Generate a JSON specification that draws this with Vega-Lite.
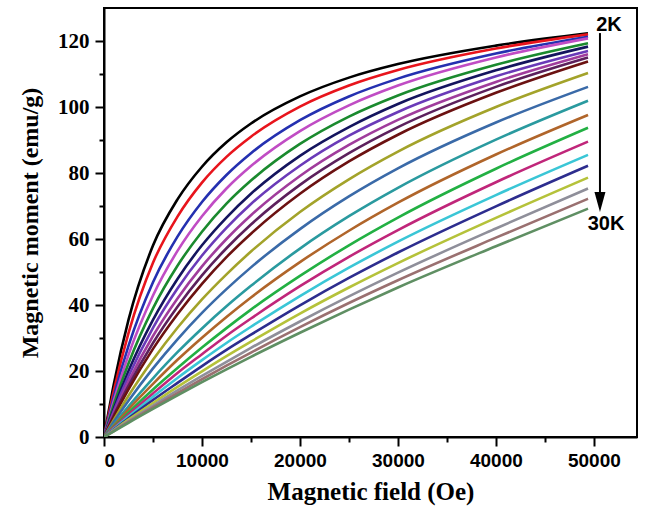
{
  "$schema": "https://vega.github.io/schema/vega-lite/v6.json",
  "autosize": "none",
  "width": 533,
  "height": 429,
  "padding": {"left": 104, "top": 8, "right": 8, "bottom": 85},
  "background": "white",
  "config": {
    "view": {"stroke": "black", "strokeWidth": 2},
    "axis": {"grid": false, "domainColor": "black", "domainWidth": 2, "tickColor": "black", "labelColor": "black", "titleColor": "black"}
  },
  "datasets": {
    "curves": [
      {"c":1,"H":0,"M":0},{"c":1,"H":1000,"M":16},{"c":1,"H":2500,"M":35.5},{"c":1,"H":5000,"M":58.0},{"c":1,"H":7500,"M":72.0},{"c":1,"H":10000,"M":81.9},{"c":1,"H":12500,"M":89.3},{"c":1,"H":15000,"M":95.0},{"c":1,"H":20000,"M":103.2},{"c":1,"H":25000,"M":108.9},{"c":1,"H":30000,"M":113.0},{"c":1,"H":40000,"M":118.6},{"c":1,"H":49400,"M":122.3},
      {"c":2,"H":0,"M":0},{"c":2,"H":1000,"M":14.0},{"c":2,"H":2500,"M":31.5},{"c":2,"H":5000,"M":52.8},{"c":2,"H":7500,"M":66.8},{"c":2,"H":10000,"M":77.1},{"c":2,"H":12500,"M":84.9},{"c":2,"H":15000,"M":91.0},{"c":2,"H":20000,"M":100.1},{"c":2,"H":25000,"M":106.5},{"c":2,"H":30000,"M":111.2},{"c":2,"H":40000,"M":117.7},{"c":2,"H":49400,"M":122.0},
      {"c":3,"H":0,"M":0},{"c":3,"H":1000,"M":12.3},{"c":3,"H":2500,"M":27.6},{"c":3,"H":5000,"M":46.9},{"c":3,"H":7500,"M":60.7},{"c":3,"H":10000,"M":71.2},{"c":3,"H":12500,"M":79.4},{"c":3,"H":15000,"M":86.0},{"c":3,"H":20000,"M":96.0},{"c":3,"H":25000,"M":103.2},{"c":3,"H":30000,"M":108.6},{"c":3,"H":40000,"M":116.2},{"c":3,"H":49400,"M":121.3},
      {"c":4,"H":0,"M":0},{"c":4,"H":1000,"M":11.0},{"c":4,"H":2500,"M":24.9},{"c":4,"H":5000,"M":42.9},{"c":4,"H":7500,"M":56.4},{"c":4,"H":10000,"M":66.9},{"c":4,"H":12500,"M":75.3},{"c":4,"H":15000,"M":82.1},{"c":4,"H":20000,"M":92.7},{"c":4,"H":25000,"M":100.5},{"c":4,"H":30000,"M":106.5},{"c":4,"H":40000,"M":115.0},{"c":4,"H":49400,"M":120.8},
      {"c":5,"H":0,"M":0},{"c":5,"H":1000,"M":9.8},{"c":5,"H":2500,"M":22.3},{"c":5,"H":5000,"M":39.0},{"c":5,"H":7500,"M":51.9},{"c":5,"H":10000,"M":62.2},{"c":5,"H":12500,"M":70.7},{"c":5,"H":15000,"M":77.7},{"c":5,"H":20000,"M":88.8},{"c":5,"H":25000,"M":97.1},{"c":5,"H":30000,"M":103.5},{"c":5,"H":40000,"M":112.8},{"c":5,"H":49400,"M":119.3},
      {"c":6,"H":0,"M":0},{"c":6,"H":1000,"M":8.6},{"c":6,"H":2500,"M":20.0},{"c":6,"H":5000,"M":35.5},{"c":6,"H":7500,"M":47.9},{"c":6,"H":10000,"M":58.1},{"c":6,"H":12500,"M":66.5},{"c":6,"H":15000,"M":73.7},{"c":6,"H":20000,"M":85.2},{"c":6,"H":25000,"M":93.9},{"c":6,"H":30000,"M":100.9},{"c":6,"H":40000,"M":111.1},{"c":6,"H":49400,"M":118.3},
      {"c":7,"H":0,"M":0},{"c":7,"H":1000,"M":7.9},{"c":7,"H":2500,"M":18.4},{"c":7,"H":5000,"M":33.1},{"c":7,"H":7500,"M":45.0},{"c":7,"H":10000,"M":55.0},{"c":7,"H":12500,"M":63.4},{"c":7,"H":15000,"M":70.6},{"c":7,"H":20000,"M":82.2},{"c":7,"H":25000,"M":91.3},{"c":7,"H":30000,"M":98.5},{"c":7,"H":40000,"M":109.3},{"c":7,"H":49400,"M":117.0},
      {"c":8,"H":0,"M":0},{"c":8,"H":1000,"M":7.2},{"c":8,"H":2500,"M":16.8},{"c":8,"H":5000,"M":30.6},{"c":8,"H":7500,"M":42.0},{"c":8,"H":10000,"M":51.7},{"c":8,"H":12500,"M":60.0},{"c":8,"H":15000,"M":67.2},{"c":8,"H":20000,"M":79.1},{"c":8,"H":25000,"M":88.5},{"c":8,"H":30000,"M":96.1},{"c":8,"H":40000,"M":107.6},{"c":8,"H":49400,"M":116.0},
      {"c":9,"H":0,"M":0},{"c":9,"H":1000,"M":6.6},{"c":9,"H":2500,"M":15.5},{"c":9,"H":5000,"M":28.5},{"c":9,"H":7500,"M":39.5},{"c":9,"H":10000,"M":49.0},{"c":9,"H":12500,"M":57.2},{"c":9,"H":15000,"M":64.4},{"c":9,"H":20000,"M":76.4},{"c":9,"H":25000,"M":86.0},{"c":9,"H":30000,"M":93.9},{"c":9,"H":40000,"M":106.1},{"c":9,"H":49400,"M":115.0},
      {"c":10,"H":0,"M":0},{"c":10,"H":1000,"M":6.1},{"c":10,"H":2500,"M":14.4},{"c":10,"H":5000,"M":26.7},{"c":10,"H":7500,"M":37.2},{"c":10,"H":10000,"M":46.4},{"c":10,"H":12500,"M":54.5},{"c":10,"H":15000,"M":61.6},{"c":10,"H":20000,"M":73.7},{"c":10,"H":25000,"M":83.5},{"c":10,"H":30000,"M":91.6},{"c":10,"H":40000,"M":104.3},{"c":10,"H":49400,"M":113.8},
      {"c":11,"H":0,"M":0},{"c":11,"H":1000,"M":5.2},{"c":11,"H":2500,"M":12.5},{"c":11,"H":5000,"M":23.4},{"c":11,"H":7500,"M":33.1},{"c":11,"H":10000,"M":41.7},{"c":11,"H":12500,"M":49.3},{"c":11,"H":15000,"M":56.2},{"c":11,"H":20000,"M":68.2},{"c":11,"H":25000,"M":78.1},{"c":11,"H":30000,"M":86.5},{"c":11,"H":40000,"M":100.0},{"c":11,"H":49400,"M":110.3},
      {"c":12,"H":0,"M":0},{"c":12,"H":1000,"M":4.6},{"c":12,"H":2500,"M":11.0},{"c":12,"H":5000,"M":20.8},{"c":12,"H":7500,"M":29.6},{"c":12,"H":10000,"M":37.6},{"c":12,"H":12500,"M":44.8},{"c":12,"H":15000,"M":51.4},{"c":12,"H":20000,"M":63.0},{"c":12,"H":25000,"M":72.9},{"c":12,"H":30000,"M":81.4},{"c":12,"H":40000,"M":95.3},{"c":12,"H":49400,"M":106.1},
      {"c":13,"H":0,"M":0},{"c":13,"H":1000,"M":3.8},{"c":13,"H":2500,"M":9.3},{"c":13,"H":5000,"M":17.8},{"c":13,"H":7500,"M":25.7},{"c":13,"H":10000,"M":32.9},{"c":13,"H":12500,"M":39.6},{"c":13,"H":15000,"M":45.8},{"c":13,"H":20000,"M":57.1},{"c":13,"H":25000,"M":66.9},{"c":13,"H":30000,"M":75.5},{"c":13,"H":40000,"M":90.1},{"c":13,"H":49400,"M":101.9},
      {"c":14,"H":0,"M":0},{"c":14,"H":1000,"M":3.4},{"c":14,"H":2500,"M":8.4},{"c":14,"H":5000,"M":16.1},{"c":14,"H":7500,"M":23.4},{"c":14,"H":10000,"M":30.1},{"c":14,"H":12500,"M":36.4},{"c":14,"H":15000,"M":42.3},{"c":14,"H":20000,"M":53.0},{"c":14,"H":25000,"M":62.5},{"c":14,"H":30000,"M":71.0},{"c":14,"H":40000,"M":85.6},{"c":14,"H":49400,"M":97.6},
      {"c":15,"H":0,"M":0},{"c":15,"H":1000,"M":3.0},{"c":15,"H":2500,"M":7.4},{"c":15,"H":5000,"M":14.4},{"c":15,"H":7500,"M":20.9},{"c":15,"H":10000,"M":27.1},{"c":15,"H":12500,"M":33.0},{"c":15,"H":15000,"M":38.6},{"c":15,"H":20000,"M":48.8},{"c":15,"H":25000,"M":58.1},{"c":15,"H":30000,"M":66.5},{"c":15,"H":40000,"M":81.3},{"c":15,"H":49400,"M":93.7},
      {"c":16,"H":0,"M":0},{"c":16,"H":1000,"M":2.8},{"c":16,"H":2500,"M":6.8},{"c":16,"H":5000,"M":13.2},{"c":16,"H":7500,"M":19.4},{"c":16,"H":10000,"M":25.1},{"c":16,"H":12500,"M":30.7},{"c":16,"H":15000,"M":35.9},{"c":16,"H":20000,"M":45.7},{"c":16,"H":25000,"M":54.6},{"c":16,"H":30000,"M":62.7},{"c":16,"H":40000,"M":77.2},{"c":16,"H":49400,"M":89.5},
      {"c":17,"H":0,"M":0},{"c":17,"H":1000,"M":2.5},{"c":17,"H":2500,"M":6.2},{"c":17,"H":5000,"M":12.2},{"c":17,"H":7500,"M":17.9},{"c":17,"H":10000,"M":23.3},{"c":17,"H":12500,"M":28.5},{"c":17,"H":15000,"M":33.4},{"c":17,"H":20000,"M":42.7},{"c":17,"H":25000,"M":51.3},{"c":17,"H":30000,"M":59.2},{"c":17,"H":40000,"M":73.3},{"c":17,"H":49400,"M":85.5},
      {"c":18,"H":0,"M":0},{"c":18,"H":1000,"M":2.3},{"c":18,"H":2500,"M":5.7},{"c":18,"H":5000,"M":11.2},{"c":18,"H":7500,"M":16.4},{"c":18,"H":10000,"M":21.5},{"c":18,"H":12500,"M":26.4},{"c":18,"H":15000,"M":31.0},{"c":18,"H":20000,"M":39.9},{"c":18,"H":25000,"M":48.2},{"c":18,"H":30000,"M":55.9},{"c":18,"H":40000,"M":69.9},{"c":18,"H":49400,"M":82.2},
      {"c":19,"H":0,"M":0},{"c":19,"H":1000,"M":2.1},{"c":19,"H":2500,"M":5.3},{"c":19,"H":5000,"M":10.3},{"c":19,"H":7500,"M":15.2},{"c":19,"H":10000,"M":19.9},{"c":19,"H":12500,"M":24.5},{"c":19,"H":15000,"M":28.9},{"c":19,"H":20000,"M":37.4},{"c":19,"H":25000,"M":45.3},{"c":19,"H":30000,"M":52.7},{"c":19,"H":40000,"M":66.4},{"c":19,"H":49400,"M":78.6},
      {"c":20,"H":0,"M":0},{"c":20,"H":1000,"M":2.0},{"c":20,"H":2500,"M":4.8},{"c":20,"H":5000,"M":9.5},{"c":20,"H":7500,"M":14.1},{"c":20,"H":10000,"M":18.5},{"c":20,"H":12500,"M":22.8},{"c":20,"H":15000,"M":27.0},{"c":20,"H":20000,"M":35.0},{"c":20,"H":25000,"M":42.6},{"c":20,"H":30000,"M":49.8},{"c":20,"H":40000,"M":63.2},{"c":20,"H":49400,"M":75.3},
      {"c":21,"H":0,"M":0},{"c":21,"H":1000,"M":1.8},{"c":21,"H":2500,"M":4.6},{"c":21,"H":5000,"M":9.0},{"c":21,"H":7500,"M":13.3},{"c":21,"H":10000,"M":17.5},{"c":21,"H":12500,"M":21.6},{"c":21,"H":15000,"M":25.6},{"c":21,"H":20000,"M":33.3},{"c":21,"H":25000,"M":40.6},{"c":21,"H":30000,"M":47.5},{"c":21,"H":40000,"M":60.4},{"c":21,"H":49400,"M":72.2},
      {"c":22,"H":0,"M":0},{"c":22,"H":1000,"M":1.7},{"c":22,"H":2500,"M":4.3},{"c":22,"H":5000,"M":8.5},{"c":22,"H":7500,"M":12.6},{"c":22,"H":10000,"M":16.6},{"c":22,"H":12500,"M":20.5},{"c":22,"H":15000,"M":24.3},{"c":22,"H":20000,"M":31.6},{"c":22,"H":25000,"M":38.6},{"c":22,"H":30000,"M":45.3},{"c":22,"H":40000,"M":57.8},{"c":22,"H":49400,"M":69.2}
    ]
  },
  "resolve": {"axis": {"x": "independent", "y": "independent"}},
  "layer": [
    {
      "data": {"name": "curves"},
      "mark": {"type": "line", "interpolate": "monotone", "strokeWidth": 2.6, "clip": true},
      "encoding": {
        "x": {"field": "H", "type": "quantitative", "scale": {"domain": [0, 54400], "nice": false, "zero": false},
          "axis": {"orient": "bottom", "values": [0, 10000, 20000, 30000, 40000, 50000], "format": "d", "tickSize": 9, "tickWidth": 2,
            "labelFont": "Liberation Sans", "labelFontWeight": "bold", "labelFontSize": 19, "labelPadding": 5,
            "title": "Magnetic field (Oe)", "titleFont": "Liberation Serif", "titleFontWeight": "bold", "titleFontSize": 25, "titlePadding": 9}},
        "y": {"field": "M", "type": "quantitative", "scale": {"domain": [0, 130], "nice": false, "zero": false},
          "axis": {"orient": "left", "values": [0, 20, 40, 60, 80, 100, 120], "tickSize": 9, "tickWidth": 2,
            "labelFont": "Liberation Serif", "labelFontWeight": "bold", "labelFontSize": 21, "labelPadding": 6,
            "title": "Magnetic moment (emu/g)", "titleFont": "Liberation Serif", "titleFontWeight": "bold", "titleFontSize": 24, "titlePadding": 15}},
        "color": {"field": "c", "type": "nominal", "legend": null,
          "scale": {"domain": [1,2,3,4,5,6,7,8,9,10,11,12,13,14,15,16,17,18,19,20,21,22],
            "range": ["#000000", "#e8141c", "#2430b0", "#c04cc4", "#1a8a2e", "#14145e", "#6a3ab8", "#a03c9c", "#5c205c", "#6b1111", "#a3a32a", "#3a6aa8", "#2a9a9f", "#b0652a", "#22b043", "#c0267a", "#3ac6d6", "#2d2d8e", "#b5c23a", "#8f8f9a", "#9a7070", "#5f8f63"]}}
      }
    },
    {
      "data": {"name": "curves"},
      "mark": {"type": "line", "opacity": 0},
      "encoding": {
        "x": {"field": "H", "type": "quantitative", "scale": {"domain": [0, 54400], "nice": false, "zero": false},
          "axis": {"orient": "bottom", "values": [5000, 15000, 25000, 35000, 45000], "labels": false, "domain": false, "tickSize": 5, "tickWidth": 2, "title": null}},
        "y": {"field": "M", "type": "quantitative", "scale": {"domain": [0, 130], "nice": false, "zero": false},
          "axis": {"orient": "left", "values": [10, 30, 50, 70, 90, 110], "labels": false, "domain": false, "tickSize": 5, "tickWidth": 2, "title": null}},
        "detail": {"field": "c", "type": "nominal"}
      }
    },
    {
      "data": {"values": [{"H": 50620, "M": 122.4, "M2": 73}]},
      "mark": {"type": "rule", "color": "black", "strokeWidth": 2},
      "encoding": {
        "x": {"field": "H", "type": "quantitative", "axis": null},
        "y": {"field": "M", "type": "quantitative", "axis": null},
        "y2": {"field": "M2"}
      }
    },
    {
      "data": {"values": [{"H": 50620, "M": 71.2}]},
      "mark": {"type": "point", "shape": "M-0.55,-1L0.55,-1L0,1Z", "size": 400, "filled": true, "color": "black", "opacity": 1},
      "encoding": {
        "x": {"field": "H", "type": "quantitative", "axis": null},
        "y": {"field": "M", "type": "quantitative", "axis": null}
      }
    },
    {
      "data": {"values": [{"H": 51540, "M": 124.7, "label": "2K"}, {"H": 51240, "M": 64.5, "label": "30K"}]},
      "mark": {"type": "text", "font": "Liberation Sans", "fontWeight": "bold", "fontSize": 20, "align": "center", "baseline": "middle", "color": "black"},
      "encoding": {
        "x": {"field": "H", "type": "quantitative", "axis": null},
        "y": {"field": "M", "type": "quantitative", "axis": null},
        "text": {"field": "label"}
      }
    }
  ]
}
